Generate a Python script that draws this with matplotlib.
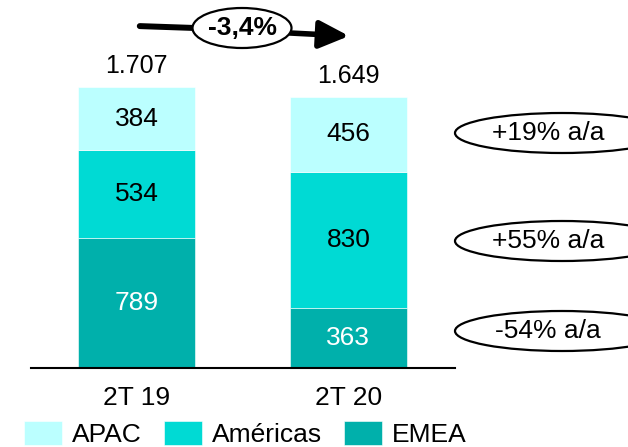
#!/usr/bin/env python
'''
plot.py: stacked revenue by region, 2T 19 vs 2T 20
'''

import matplotlib
matplotlib.use("Agg")
import matplotlib.pyplot as plt
from matplotlib.patches import Ellipse, FancyArrowPatch

plt.rcParams['font.family'] = ['Liberation Sans', 'DejaVu Sans']

# data
periods = ['2T 19', '2T 20']
emea = [789, 363]
americas = [534, 830]
apac = [384, 456]
growth = ['+19% a/a', '+55% a/a', '-54% a/a']
change = '-3,4%'

apac_color = '#BBFFFF'
americas_color = '#00DAD4'
emea_color = '#00B0AB'

W, H = 628, 447
FS = 18     # totals
FS2 = 19    # everything else


def px(x, y):
    # picture pixels (top-left origin) -> figure fraction
    return x / W, 1 - y / H


fig = plt.figure(figsize=(W / 100, H / 100), dpi=100)
ax = fig.add_axes([31 / W, (H - 368) / H, 424 / W, 368 / H])

xs = list(range(len(periods)))
width = 0.553

b_emea = ax.bar(xs, emea, width, color=emea_color, edgecolor='white', linewidth=0.4)
bottom2 = emea
b_amer = ax.bar(xs, americas, width, bottom=bottom2, color=americas_color,
                edgecolor='white', linewidth=0.4)
bottom3 = [a + b for a, b in zip(emea, americas)]
b_apac = ax.bar(xs, apac, width, bottom=bottom3, color=apac_color,
                edgecolor='white', linewidth=0.4)

# segment labels
for i in xs:
    ax.text(i, emea[i] / 2, str(emea[i]), ha='center', va='center',
            fontsize=FS2, color='white')
    ax.text(i, emea[i] + americas[i] / 2, str(americas[i]), ha='center',
            va='center', fontsize=FS2, color='black')
    ax.text(i, bottom3[i] + apac[i] / 2, str(apac[i]), ha='center',
            va='center', fontsize=FS2, color='black')

# totals above bars
totals = [a + b + c for a, b, c in zip(emea, americas, apac)]
for i in xs:
    label = "{:,}".format(totals[i]).replace(',', '.')
    ax.annotate(label, (i, totals[i]), xytext=(0, 15), textcoords='offset points',
                ha='center', va='center', fontsize=FS)

ax.set_xlim(-0.5, 1.504)
ax.set_ylim(0, 368 / 0.1646)
ax.set_xticks(xs)
ax.set_xticklabels(periods, fontsize=FS2)
ax.tick_params(axis='x', length=0, pad=13)
ax.set_yticks([])
for side in ['top', 'right', 'left']:
    ax.spines[side].set_visible(False)
ax.spines['bottom'].set_linewidth(1.5)
ax.patch.set_visible(False)

# growth bubbles on the right, running off the edge
for label, yc in zip(growth, [133, 241, 331]):
    e = Ellipse(px(562, yc), 214 / W, 40 / H, transform=fig.transFigure,
                facecolor='white', edgecolor='black', lw=1.6)
    fig.patches.append(e)
    fig.text(*px(548, yc), label, ha='center', va='center', fontsize=FS2)

# top arrow with the overall change
line = FancyArrowPatch(px(137, 26), px(195, 28), transform=fig.transFigure,
                       arrowstyle='-', lw=4.3, color='black')
arrow = FancyArrowPatch(px(290, 33), px(349, 36), transform=fig.transFigure,
                        arrowstyle='-|>,head_length=0.9,head_width=0.42',
                        mutation_scale=20, lw=4.0, color='black',
                        shrinkA=0, shrinkB=0)
fig.patches.append(line)
fig.patches.append(arrow)
top = Ellipse(px(242, 28), 99 / W, 40 / H, transform=fig.transFigure,
              facecolor='white', edgecolor='black', lw=1.6)
fig.patches.append(top)
fig.text(*px(242, 28), change, ha='center', va='center', fontsize=FS2,
         fontweight='bold')

# legend
fig.legend([b_apac, b_amer, b_emea], ['APAC', 'Américas', 'EMEA'],
           loc='upper left', bbox_to_anchor=px(24, 421), ncol=3, frameon=False,
           fontsize=FS2, handlelength=1.44, handleheight=1.0, handletextpad=0.38,
           columnspacing=0.83, borderaxespad=0, borderpad=0)

fig.savefig('out.png', dpi=100)
plt.close()
